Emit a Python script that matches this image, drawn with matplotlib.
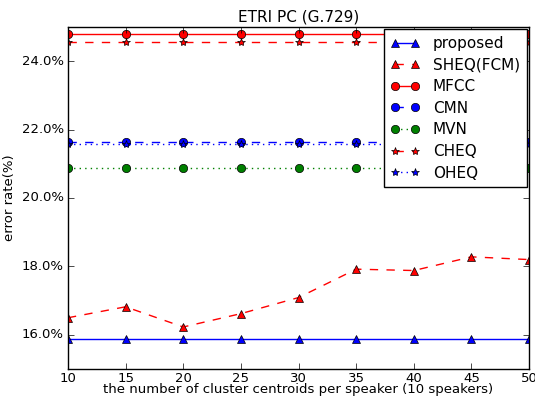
import matplotlib
matplotlib.use("Agg")
import matplotlib.pyplot as plt
from matplotlib.ticker import FuncFormatter

x = [10, 15, 20, 25, 30, 35, 40, 45, 50]
proposed = [15.87] * 9
sheq = [16.50, 16.82, 16.23, 16.62, 17.09, 17.92, 17.88, 18.28, 18.20]
mfcc = [24.78] * 9
cmn = [21.65] * 9
mvn = [20.87] * 9
cheq = [24.57] * 9
oheq = [21.57] * 9

plt.style.use("classic")
fig = plt.figure(figsize=(5.35, 3.96), dpi=100)
ax = fig.add_axes([0.127, 0.068, 0.862, 0.864])

ax.plot(x, proposed, color="blue", linestyle="-", marker="^", markersize=6, label="proposed")
ax.plot(x, sheq, color="red", linestyle="--", marker="^", markersize=6, label="SHEQ(FCM)")
ax.plot(x, mfcc, color="red", linestyle="-", marker="o", markersize=6, label="MFCC")
ax.plot(x, cmn, color="blue", linestyle="--", marker="o", markersize=6, label="CMN")
ax.plot(x, mvn, color="green", linestyle=":", marker="o", markersize=6, label="MVN")
ax.plot(x, cheq, color="red", linestyle="--", marker="*", markersize=6, label="CHEQ")
ax.plot(x, oheq, color="blue", linestyle=":", marker="*", markersize=6, label="OHEQ")

ax.set_xlim(10, 50)
ax.set_ylim(15, 25)
ax.set_yticks([16, 18, 20, 22, 24])
ax.yaxis.set_major_formatter(FuncFormatter(lambda v, p: "%.1f%%" % v))
ax.tick_params(labelsize=9.5, pad=3)
ax.tick_params(axis="x", pad=2)
ax.set_title("ETRI PC (G.729)", fontsize=11, pad=4)
ax.set_xlabel("the number of cluster centroids per speaker (10 speakers)", fontsize=9.5, labelpad=-1)
ax.set_ylabel("error rate(%)", fontsize=9.5, labelpad=4)
ax.legend(loc="upper right", fontsize=11, numpoints=2, borderaxespad=0.15,
          handlelength=1.9, handletextpad=0.85, labelspacing=0.43, borderpad=0.45)

fig.savefig("out.png", dpi=100)
